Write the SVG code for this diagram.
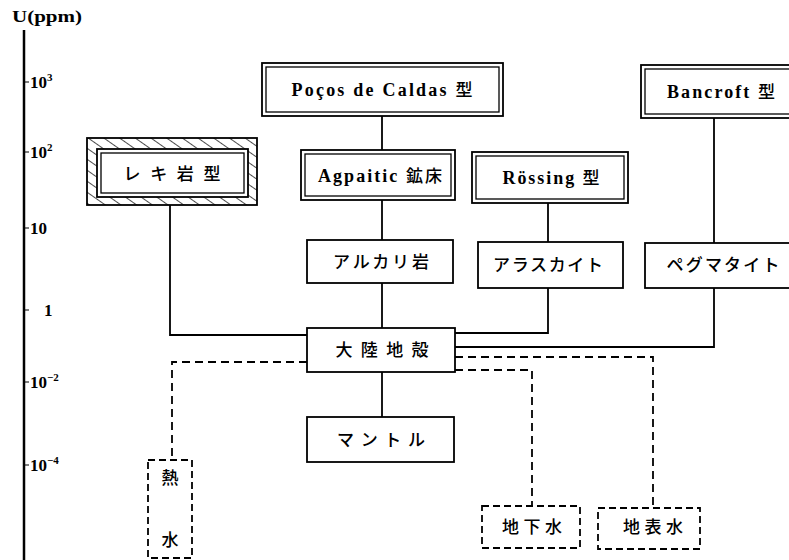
<svg xmlns="http://www.w3.org/2000/svg" width="789" height="560" viewBox="0 0 789 560">
<style>
.bx{fill:#fff;stroke:#000;stroke-width:1.8}
.in{fill:none;stroke:#000;stroke-width:1.3}
.ds{fill:#fff;stroke:#000;stroke-width:1.8;stroke-dasharray:7 4}
.ln{fill:none;stroke:#000;stroke-width:1.8}
.dl{fill:none;stroke:#000;stroke-width:1.8;stroke-dasharray:8 5}
.lt{font-family:"Liberation Serif",serif;font-weight:bold;font-size:18px;fill:#000;text-anchor:middle}
.jp{font-family:"Noto Sans CJK JP",sans-serif;font-weight:500;font-size:17px;fill:#000;text-anchor:middle}
.ax{font-family:"Liberation Serif",serif;font-size:17px;font-weight:bold;fill:#000}
</style>
<defs>
<pattern id="hatch" patternUnits="userSpaceOnUse" width="9" height="9" patternTransform="rotate(-55)">
<line x1="0" y1="0" x2="0" y2="9" stroke="#000" stroke-width="1.4"/>
</pattern>
</defs>
<g id="axis">
<line x1="24" y1="30" x2="24" y2="560" stroke="#000" stroke-width="2.5"/>
<text class="ax" x="12" y="22" textLength="70" lengthAdjust="spacingAndGlyphs">U(ppm)</text>
<path d="M24 82H29M24 152H29M24 228H29M24 310H29M24 382H29M24 465H29" stroke="#000" stroke-width="1.2"/>
<text class="ax" x="30" y="88">10<tspan font-size="11" dy="-7">3</tspan></text>
<text class="ax" x="30" y="158">10<tspan font-size="11" dy="-7">2</tspan></text>
<text class="ax" x="30" y="234">10</text>
<text class="ax" x="44" y="316">1</text>
<text class="ax" x="30" y="388">10<tspan font-size="11" dy="-7">−2</tspan></text>
<text class="ax" x="30" y="471">10<tspan font-size="11" dy="-7">−4</tspan></text>
</g>
<g id="connectors">
<path class="ln" d="M382 116V150"/>
<path class="ln" d="M382 200V240"/>
<path class="ln" d="M382 283V328"/>
<path class="ln" d="M382 372V417"/>
<path class="ln" d="M548 203V242"/>
<path class="ln" d="M548 288V333H455"/>
<path class="ln" d="M714 118V243"/>
<path class="ln" d="M714 288V347H455"/>
<path class="ln" d="M170 205V335H307"/>
<path class="dl" d="M307 362H172V460"/>
<path class="dl" d="M455 370H532V506"/>
<path class="dl" d="M455 357H653V508"/>
</g>
<g id="poços">
<rect class="bx" x="262" y="63" width="241" height="53"/>
<rect class="in" x="266" y="67" width="233" height="45"/>
<text class="lt" x="382" y="96" textLength="181" lengthAdjust="spacing">Poços de Caldas <tspan class="jp">型</tspan></text>
</g>
<g id="bancroft">
<rect class="bx" x="641" y="65" width="160" height="53"/>
<rect class="in" x="645" y="69" width="160" height="45"/>
<text class="lt" x="721" y="98" textLength="108" lengthAdjust="spacing">Bancroft <tspan class="jp">型</tspan></text>
</g>
<g id="reki">
<rect x="87" y="138" width="170" height="67" fill="url(#hatch)" stroke="#000" stroke-width="1.8"/>
<rect class="bx" x="97" y="149" width="151" height="48"/>
<rect class="in" x="101" y="153" width="143" height="40"/>
<text class="jp" x="172" y="180" textLength="97" lengthAdjust="spacing">レキ岩型</text>
</g>
<g id="agpaitic">
<rect class="bx" x="301" y="150" width="154" height="50"/>
<rect class="in" x="305" y="154" width="146" height="42"/>
<text class="lt" x="380" y="182" textLength="124" lengthAdjust="spacing">Agpaitic <tspan class="jp">鉱床</tspan></text>
</g>
<g id="rossing">
<rect class="bx" x="472" y="152" width="156" height="51"/>
<rect class="in" x="476" y="156" width="148" height="43"/>
<text class="lt" x="551" y="184" textLength="97" lengthAdjust="spacing">Rössing <tspan class="jp">型</tspan></text>
</g>
<g id="alkali">
<rect class="bx" x="307" y="240" width="146" height="43"/>
<text class="jp" x="381" y="268" textLength="96" lengthAdjust="spacing">アルカリ岩</text>
</g>
<g id="alaskite">
<rect class="bx" x="478" y="242" width="145" height="46"/>
<text class="jp" x="548" y="271" textLength="110" lengthAdjust="spacing">アラスカイト</text>
</g>
<g id="pegmatite">
<rect class="bx" x="645" y="243" width="160" height="45"/>
<text class="jp" x="723" y="271" textLength="113" lengthAdjust="spacing">ペグマタイト</text>
</g>
<g id="crust">
<rect class="bx" x="307" y="328" width="148" height="44"/>
<text class="jp" x="382" y="356" textLength="93" lengthAdjust="spacing">大陸地殻</text>
</g>
<g id="mantle">
<rect class="bx" x="307" y="417" width="147" height="45"/>
<text class="jp" x="381" y="446" textLength="88" lengthAdjust="spacing">マントル</text>
</g>
<g id="hydrothermal">
<rect class="ds" x="148" y="460" width="44" height="98"/>
<text class="jp" x="170" y="484">熱</text>
<text class="jp" x="170" y="546">水</text>
</g>
<g id="groundwater">
<rect class="ds" x="482" y="506" width="98" height="42"/>
<text class="jp" x="532" y="533" textLength="60" lengthAdjust="spacing">地下水</text>
</g>
<g id="surfacewater">
<rect class="ds" x="598" y="508" width="102" height="41"/>
<text class="jp" x="653" y="533" textLength="60" lengthAdjust="spacing">地表水</text>
</g>
</svg>
